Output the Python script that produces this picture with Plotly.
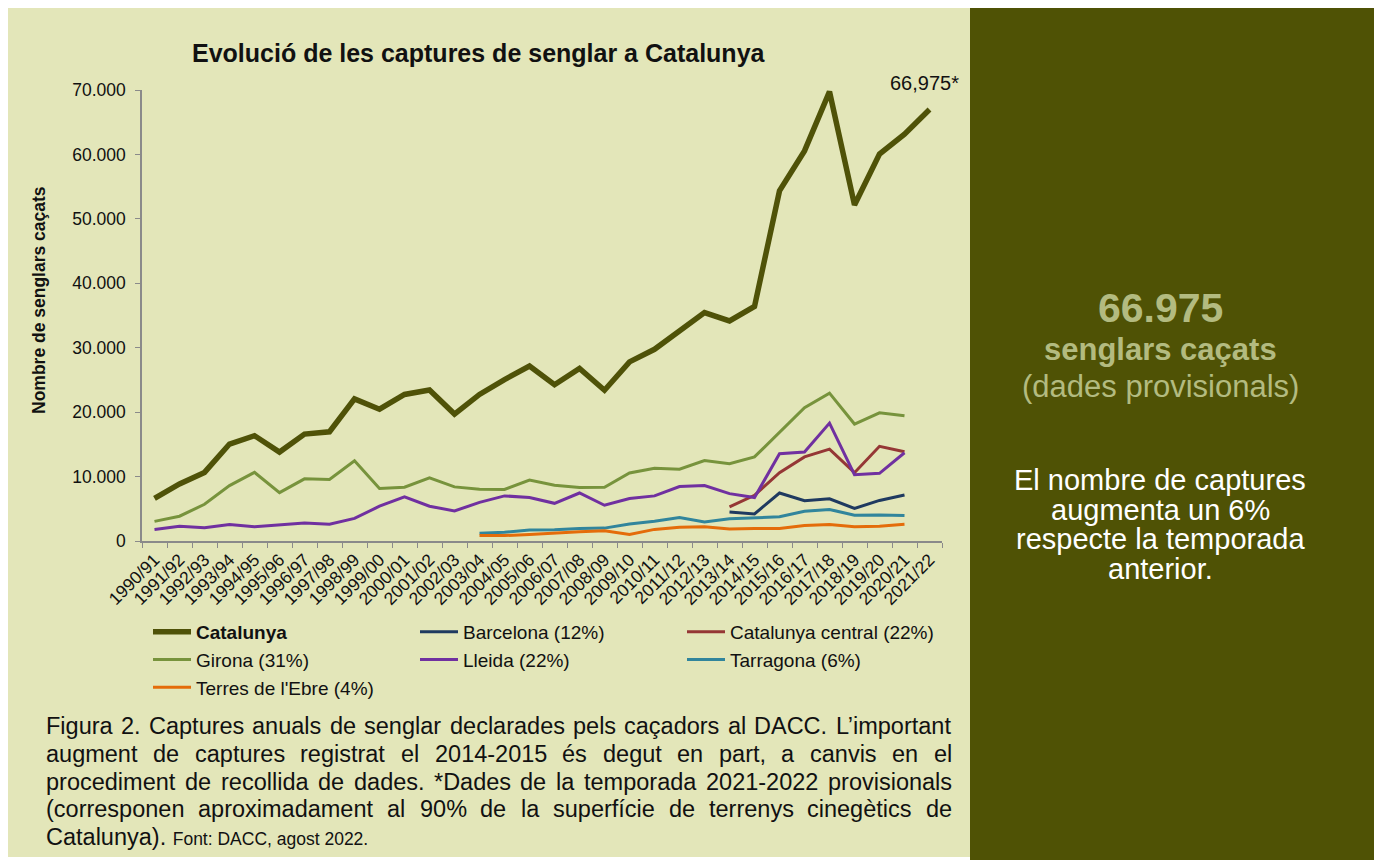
import plotly.graph_objects as go

# ---------------- data ----------------
seasons = ["1990/91", "1991/92", "1992/93", "1993/94", "1994/95", "1995/96", "1996/97", "1997/98",
           "1998/99", "1999/00", "2000/01", "2001/02", "2002/03", "2003/04", "2004/05", "2005/06",
           "2006/07", "2007/08", "2008/09", "2009/10", "2010/11", "2011/12", "2012/13", "2013/14",
           "2014/15", "2015/16", "2016/17", "2017/18", "2018/19", "2019/20", "2020/21", "2021/22"]

catalunya = [6600, 8850, 10650, 15050, 16350, 13800, 16600, 16950, 22050, 20450, 22750, 23450,
             19700, 22750, 25050, 27150, 24250, 26800, 23400, 27800, 29750, 32600, 35450, 34150,
             36400, 54350, 60550, 69750, 52150, 60050, 63150, 66975]
barcelona = [None, None, None, None, None, None, None, None, None, None, None, None,
             None, None, None, None, None, None, None, None, None, None, None, 4500,
             4200, 7450, 6250, 6550, 5050, 6300, 7150, None]
cat_central = [None, None, None, None, None, None, None, None, None, None, None, None,
               None, None, None, None, None, None, None, None, None, None, None, 5300,
               7100, 10600, 13050, 14250, 10600, 14700, 13850, None]
girona = [3050, 3850, 5700, 8600, 10650, 7500, 9650, 9550, 12450, 8150, 8350, 9800,
          8400, 8050, 8000, 9450, 8650, 8300, 8350, 10550, 11300, 11150, 12500, 12000,
          13050, 16850, 20700, 22950, 18150, 19900, 19450, None]
lleida = [1800, 2300, 2050, 2550, 2200, 2450, 2800, 2600, 3500, 5400, 6850, 5400,
          4650, 6000, 7000, 6750, 5850, 7450, 5550, 6600, 7000, 8450, 8600, 7350,
          6750, 13550, 13800, 18300, 10300, 10500, 13700, None]
tarragona = [None, None, None, None, None, None, None, None, None, None, None, None,
             None, 1200, 1350, 1700, 1750, 1950, 2000, 2650, 3050, 3650, 2950, 3450,
             3550, 3750, 4600, 4900, 4000, 4050, 3950, None]
terres_ebre = [None, None, None, None, None, None, None, None, None, None, None, None,
               None, 850, 850, 1000, 1250, 1450, 1600, 1000, 1800, 2150, 2200, 1850,
               1950, 1950, 2400, 2550, 2200, 2300, 2600, None]

series_names = ["<b>Catalunya</b>", "Barcelona (12%)", "Catalunya central (22%)", "Girona (31%)",
                "Lleida (22%)", "Tarragona (6%)", "Terres de l'Ebre (4%)"]

ytick_vals = [0, 10000, 20000, 30000, 40000, 50000, 60000, 70000]
ytick_text = ["0", "10.000", "20.000", "30.000", "40.000", "50.000", "60.000", "70.000"]

# ---------------- layout geometry ----------------
# the page body adds an 8 px margin; the figure is sized so it fits the window
OFF = 8
W, H = 1382 - OFF, 860 - OFF
ML, MR, MT, MB = 142 - OFF, 440, 90 - OFF, H - (541 - OFF)
PW = W - ML - MR
PH = H - MT - MB


def px(xs):
    """screen x -> paper x"""
    return (xs - OFF - ML) / PW


def py(ys):
    """screen y -> paper y"""
    return (H - MB - (ys - OFF)) / PH


FONT = "Liberation Sans, Arial, sans-serif"
LIGHT = "#E3E6B9"
DARK = "#4F5205"

colors = ["#4F5208", "#1F3A60", "#953735", "#77933C", "#7030A0", "#31859C", "#E46C0A"]
widths = [5.5, 3, 3, 3, 3, 3, 3]
values = [catalunya, barcelona, cat_central, girona, lleida, tarragona, terres_ebre]

fig = go.Figure()
for name, vals, col, wd in zip(series_names, values, colors, widths):
    fig.add_trace(go.Scatter(x=seasons, y=vals, mode="lines", name=name,
                             line=dict(color=col, width=wd), connectgaps=False))

shapes = [
    dict(type="rect", xref="paper", yref="paper", x0=px(OFF), x1=px(971), y0=py(857), y1=py(OFF),
         fillcolor=LIGHT, line_width=0, layer="below"),
    dict(type="rect", xref="paper", yref="paper", x0=px(970), x1=px(1382), y0=py(860), y1=py(OFF),
         fillcolor=DARK, line_width=0, layer="below"),
]

annotations = []


def ann(text, xs, ys, size, color="#111111", xanchor="center", bold=False, angle=0):
    annotations.append(dict(text=("<b>%s</b>" % text) if bold else text, xref="paper", yref="paper",
                            x=px(xs), y=py(ys), xanchor=xanchor, yanchor="middle", showarrow=False,
                            textangle=angle, font=dict(family=FONT, size=size, color=color)))


ann("Evolució de les captures de senglar a Catalunya", 479, 53, 25, bold=True)
ann("Nombre de senglars caçats", 39, 300, 17.5, bold=True, angle=-90)

annotations.append(dict(text="66,975*", xref="x", yref="y", x=seasons[-1], y=catalunya[-1],
                        xanchor="center", yanchor="bottom", xshift=-5, yshift=13, showarrow=False,
                        font=dict(family=FONT, size=20, color="#111111")))

# right panel
PANEL_TXT = "#B3BB80"
ann("66.975", 1160, 308, 41, color=PANEL_TXT, bold=True)
ann("senglars caçats", 1160, 349, 31, color=PANEL_TXT, bold=True)
ann("(dades provisionals)", 1160, 387, 31, color=PANEL_TXT)
for i, line in enumerate(["El nombre de captures", "augmenta un 6%", "respecte la temporada", "anterior."]):
    ann(line, 1160, 480 + 29.5 * i, 29, color="#FFFFFF")

# caption (justified)
AW = {" ": 278, "'": 191, "’": 222, "(": 333, ")": 333, "*": 389, ",": 278, "-": 333, ".": 278,
      "/": 278, ":": 278, "%": 889, "A": 667, "C": 722, "D": 722, "F": 611, "L": 556,
      "a": 556, "b": 556, "c": 500, "d": 556, "e": 556, "f": 278, "g": 556, "h": 556, "i": 222,
      "j": 222, "k": 500, "l": 222, "m": 833, "n": 556, "o": 556, "p": 556, "q": 556, "r": 333,
      "s": 500, "t": 278, "u": 556, "v": 500, "w": 722, "x": 500, "y": 500, "z": 500,
      "à": 556, "è": 556, "é": 556, "í": 278, "ò": 556, "ó": 556, "ç": 500, "ú": 556}


def tw(s, size):
    return sum(AW.get(c, 556) for c in s) / 1000.0 * size


CAP_SIZE = 23.5
CAP_L, CAP_R = 44, 950
cap_lines = [
    "Figura 2. Captures anuals de senglar declarades pels caçadors al DACC. L’important",
    "augment de captures registrat el 2014-2015 és degut en part, a canvis en el",
    "procediment de recollida de dades. *Dades de la temporada 2021-2022 provisionals",
    "(corresponen aproximadament al 90% de la superfície de terrenys cinegètics de",
]
for i, line in enumerate(cap_lines):
    yy = 726 + 27.75 * i
    words = line.split(" ")
    total = sum(tw(w, CAP_SIZE) for w in words)
    gap = (CAP_R - CAP_L - total) / (len(words) - 1)
    xx = CAP_L
    for w in words:
        ann(w, xx, yy, CAP_SIZE, color="#111111", xanchor="left")
        xx += tw(w, CAP_SIZE) + gap
ann("Catalunya). <span style='font-size:17.5px'>Font: DACC, agost 2022.</span>", CAP_L,
    726 + 27.75 * 4, CAP_SIZE, color="#111111", xanchor="left")

fig.update_layout(
    width=W, height=H,
    margin=dict(l=ML, r=MR, t=MT, b=MB, autoexpand=False),
    paper_bgcolor="white", plot_bgcolor="rgba(0,0,0,0)",
    font=dict(family=FONT, color="#111111"),
    showlegend=True,
    xaxis=dict(type="category", range=[-0.5, len(seasons) - 0.5], tickangle=-45, tickson="boundaries",
               ticks="outside", ticklen=5, tickcolor="#8A8A8A", showline=True, linecolor="#8A8A8A",
               linewidth=1.5, showgrid=False, zeroline=False, tickfont=dict(size=17.5, color="#111111")),
    yaxis=dict(range=[0, 70000], tickvals=ytick_vals, ticktext=ytick_text, ticks="outside", ticklen=5,
               tickcolor="#8A8A8A", showline=True, linecolor="#8A8A8A", linewidth=1.5, showgrid=False,
               zeroline=False, tickfont=dict(size=17.5, color="#111111"), ticklabelstandoff=6),
    legend=dict(orientation="h", x=px(148), y=py(613), xanchor="left", yanchor="top",
                itemwidth=38, entrywidth=214, entrywidthmode="pixels",
                font=dict(size=19, color="#111111"),
                bgcolor="rgba(0,0,0,0)", traceorder="normal"),
    shapes=shapes,
    annotations=annotations,
)

fig.write_html("out.html")
